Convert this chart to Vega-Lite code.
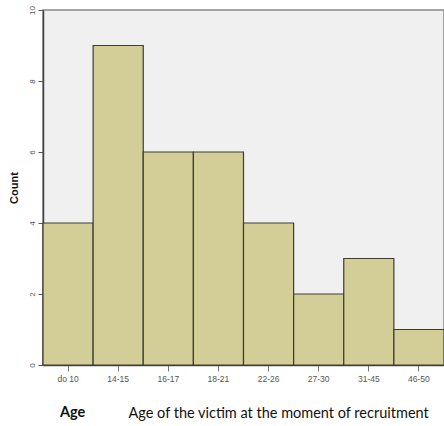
{
  "$schema": "https://vega.github.io/schema/vega-lite/v6.json",
  "width": 401,
  "height": 355,
  "autosize": "none",
  "padding": {"left": 43, "top": 10, "right": 0, "bottom": 61},
  "background": "white",
  "config": {
    "view": {"fill": "#f0f0f0", "stroke": "#8a8a8a", "strokeWidth": 1.5},
    "font": "Liberation Sans"
  },
  "title": {
    "text": "Age",
    "orient": "bottom",
    "anchor": "start",
    "frame": "group",
    "font": "Lato",
    "fontSize": 14.5,
    "fontWeight": "bold",
    "color": "#111111",
    "dx": 17,
    "offset": -14
  },
  "data": {
    "values": [
      {"age": "do 10", "count": 4},
      {"age": "14-15", "count": 9},
      {"age": "16-17", "count": 6},
      {"age": "18-21", "count": 6},
      {"age": "22-26", "count": 4},
      {"age": "27-30", "count": 2},
      {"age": "31-45", "count": 3},
      {"age": "46-50", "count": 1}
    ]
  },
  "mark": {"type": "bar", "fill": "#d3ce97", "stroke": "#3d3d33", "strokeWidth": 1.2},
  "encoding": {
    "x": {
      "field": "age",
      "type": "nominal",
      "sort": null,
      "scale": {"paddingInner": 0, "paddingOuter": 0},
      "axis": {
        "title": "Age of the victim at the moment of recruitment",
        "titleFont": "Lato",
        "titleFontSize": 14.5,
        "titleFontWeight": "normal",
        "titleColor": "#111111",
        "titleAnchor": "start",
        "titleAlign": "left",
        "titleX": 85,
        "titleY": 52,
        "titleBaseline": "alphabetic",
        "labelAngle": 0,
        "labelFontSize": 8.5,
        "labelColor": "#555555",
        "labelPadding": 3,
        "tickColor": "#777777",
        "tickSize": 6,
        "domainColor": "#444444",
        "domainWidth": 1.5
      }
    },
    "y": {
      "field": "count",
      "type": "quantitative",
      "scale": {"domain": [0, 10]},
      "axis": {
        "title": "Count",
        "titleFont": "Liberation Sans",
        "titleFontSize": 11,
        "titleFontWeight": "bold",
        "titleColor": "#111111",
        "titleX": -24,
        "values": [0, 2, 4, 6, 8, 10],
        "labelFontSize": 8,
        "labelColor": "#555555",
        "labelAngle": -90,
        "labelAlign": "center",
        "labelBaseline": "bottom",
        "labelPadding": 2,
        "tickColor": "#555555",
        "tickSize": 5,
        "grid": false,
        "domainColor": "#444444",
        "domainWidth": 1.5
      }
    }
  }
}
